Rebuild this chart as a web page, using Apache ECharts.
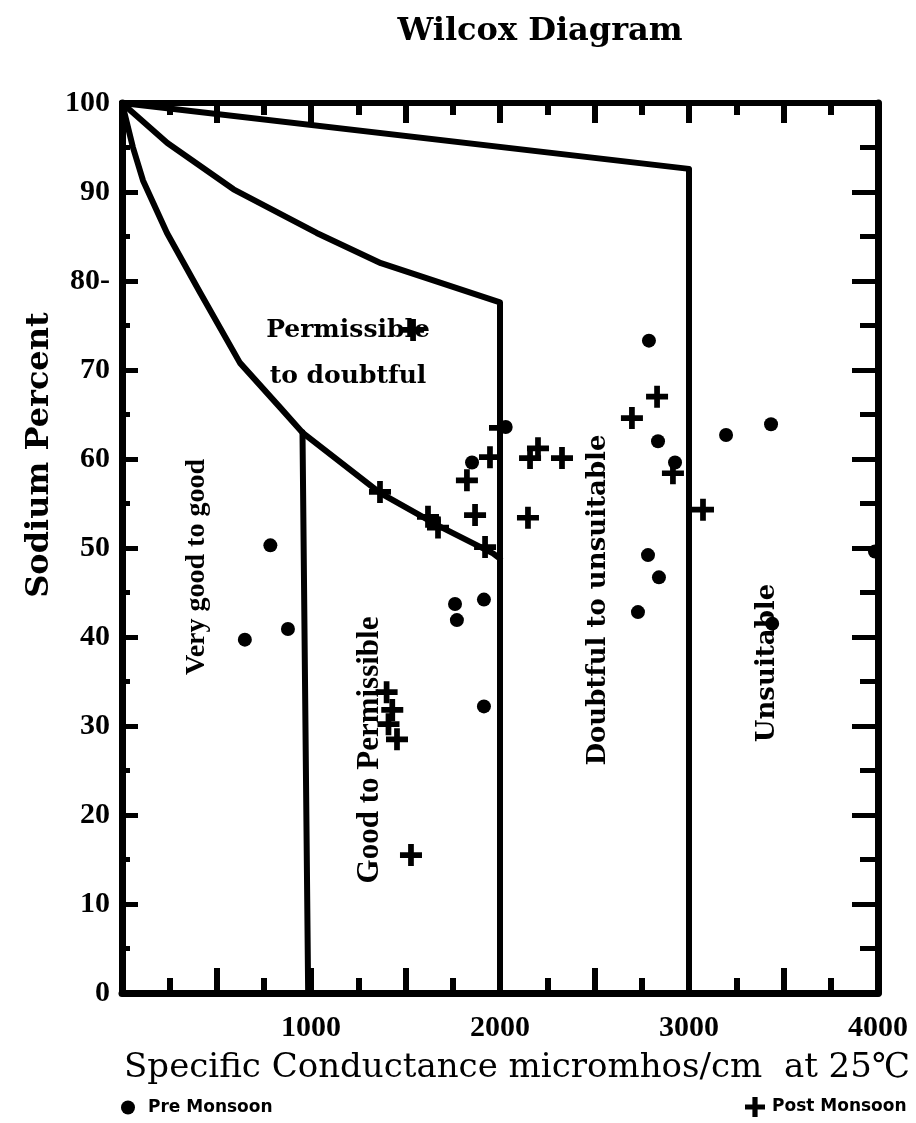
<!DOCTYPE html>
<html>
<head>
<meta charset="utf-8">
<script src="https://cdn.jsdelivr.net/npm/echarts@6/dist/echarts.min.js"></script>
<style>
  html, body { margin: 0; padding: 0; background: #fff; }
  #chart { width: 916px; height: 1123px; }
</style>
</head>
<body>
<div id="chart"></div>
<script>
// sample points [conductance, sodium %]
var preMonsoon = [
    [650, 39.7], [785, 50.3], [878, 40.9], [1650, 53.0], [1762, 43.7], [1772, 41.9],
    [1915, 44.2], [1915, 32.2], [1852, 59.6], [2030, 63.6], [2788, 73.3], [2836, 62.0],
    [2783, 49.2], [2841, 46.7], [2730, 42.8], [2926, 59.6], [3196, 62.7], [3434, 63.9],
    [3984, 49.6], [3440, 41.5]
];
var postMonsoon = [
    [1540, 74.5], [1365, 56.3], [1619, 53.5], [1672, 52.3], [1921, 50.1], [1825, 57.6],
    [1868, 53.7], [1947, 60.2], [2000, 63.5], [2159, 60.1], [2201, 61.2], [2328, 60.1],
    [2148, 53.4], [2698, 64.6], [2831, 67.0], [2915, 58.4], [3074, 54.3], [1529, 15.5],
    [1400, 33.8], [1430, 31.8], [1410, 30.2], [1455, 28.5]
];

// class boundaries of the diagram
var outerLine = [[0, 100], [3000, 92.6], [3000, 0]];
var middleLine = [[0, 100], [240, 95.5], [590, 90.3], [1030, 85.4], [1370, 82.0], [2000, 77.6], [2000, 0]];
var innerLine = [[0, 100], [58, 95], [111, 91.3], [238, 85.4], [413, 78.7], [624, 70.8],
    [836, 65.8], [958, 62.9], [1365, 56.2], [1683, 52.4], [1963, 49.4], [2000, 48.8]];
var line1000 = [[955, 63.0], [985, 0]];

var xTicks = [1000, 2000, 3000, 4000];

var serif = 'Liberation Serif';
var serif2 = 'DejaVu Serif';
var plusPath = 'path://M3.7,0H6.3V3.7H10V6.3H6.3V10H3.7V6.3H0V3.7H3.7Z';

function boundary(data) {
    return {
        type: 'line',
        data: data,
        showSymbol: false,
        silent: true,
        z: 1,
        lineStyle: {color: '#000', width: 6, cap: 'round', join: 'round'}
    };
}

function rotText(text, x, y, font, size) {
    return {
        type: 'text', x: x, y: y, rotation: Math.PI / 2,
        style: {
            text: text, x: 0, y: 0, align: 'center', verticalAlign: 'middle',
            fill: '#000', font: 'bold ' + size + 'px "' + font + '"'
        }
    };
}

function tickStyle(w) {
    return {color: '#000', width: w};
}

var chart = echarts.init(document.getElementById('chart'));
var black = {color: '#000', opacity: 1};

chart.setOption({
    animation: false,
    backgroundColor: '#fff',
    grid: {left: 122, top: 103, right: 38, bottom: 130},
    legend: [{
        data: ['Pre Monsoon'], left: 116, top: 1094, itemWidth: 14, itemHeight: 14,
        textStyle: {fontFamily: 'DejaVu Sans', fontWeight: 'bold', fontSize: 17, color: '#000', padding: [0, 0, 0, 8]}
    }, {
        data: ['Post Monsoon'], left: 740, top: 1092, itemWidth: 20, itemHeight: 20,
        textStyle: {fontFamily: 'DejaVu Sans', fontWeight: 'bold', fontSize: 17, color: '#000', padding: [0, 0, 0, 2]}
    }],
    xAxis: [{
        type: 'value', min: 0, max: 4000, interval: 500, position: 'bottom',
        axisLine: {onZero: false, lineStyle: tickStyle(7)},
        axisTick: {inside: true, length: 25, lineStyle: tickStyle(6)},
        minorTick: {show: true, splitNumber: 2, length: 15, lineStyle: tickStyle(6)},
        splitLine: {show: false},
        axisLabel: {
            margin: 20, color: '#000', fontFamily: serif, fontWeight: 'bold', fontSize: 30,
            formatter: function (v) { return xTicks.indexOf(v) >= 0 ? String(v) : ''; }
        }
    }, {
        type: 'value', min: 0, max: 4000, interval: 500, position: 'top',
        axisLine: {onZero: false, lineStyle: tickStyle(6)},
        axisTick: {inside: true, length: 20, lineStyle: tickStyle(6)},
        minorTick: {show: true, splitNumber: 2, length: 12, lineStyle: tickStyle(6)},
        splitLine: {show: false},
        axisLabel: {show: false}
    }],
    yAxis: [{
        type: 'value', min: 0, max: 100, interval: 10, position: 'left',
        axisLine: {show: true, onZero: false, lineStyle: tickStyle(7)},
        axisTick: {show: true, inside: true, length: 16, lineStyle: tickStyle(5)},
        minorTick: {show: true, splitNumber: 2, length: 8, lineStyle: tickStyle(5)},
        splitLine: {show: false},
        axisLabel: {
            margin: 12, color: '#000', fontFamily: serif, fontWeight: 'bold', fontSize: 30,
            formatter: function (v) { return v === 80 ? '80-' : String(v); }
        }
    }, {
        type: 'value', min: 0, max: 100, interval: 10, position: 'right',
        axisLine: {show: true, onZero: false, lineStyle: tickStyle(7)},
        axisTick: {show: true, inside: true, length: 26, lineStyle: tickStyle(5)},
        minorTick: {show: true, splitNumber: 2, length: 18, lineStyle: tickStyle(5)},
        splitLine: {show: false},
        axisLabel: {show: false}
    }],
    graphic: [
        {type: 'text', x: 540, y: 32, style: {text: 'Wilcox Diagram', x: 0, y: 0, align: 'center', verticalAlign: 'middle', fill: '#000', font: 'bold 32px "' + serif2 + '"'}},
        {type: 'text', x: 517, y: 1068, style: {text: 'Specific Conductance micromhos/cm  at 25℃', x: 0, y: 0, align: 'center', verticalAlign: 'middle', fill: '#000', font: '34px "' + serif2 + '"'}},
        rotText('Sodium Percent', 40, 455, serif2, 32),
        {type: 'text', x: 348, y: 353, style: {text: 'Permissible\nto doubtful', x: 0, y: 0, align: 'center', verticalAlign: 'middle', lineHeight: 46, fill: '#000', font: 'bold 25px "' + serif2 + '"'}},
        rotText('Very good to good', 197, 567, serif, 28),
        rotText('Good to Permissible', 370, 750, serif, 31),
        rotText('Doubtful to unsuitable', 598, 600, serif2, 26),
        rotText('Unsuitable', 767, 663, serif2, 26)
    ],
    series: [
        boundary(outerLine),
        boundary(middleLine),
        boundary(innerLine),
        boundary(line1000),
        {
            name: 'Pre Monsoon', type: 'scatter', data: preMonsoon, z: 3,
            symbol: 'circle', symbolSize: 14, itemStyle: black
        },
        {
            name: 'Post Monsoon', type: 'scatter', data: postMonsoon, z: 3,
            symbol: plusPath, symbolSize: 22, itemStyle: black
        }
    ]
});
</script>
</body>
</html>
